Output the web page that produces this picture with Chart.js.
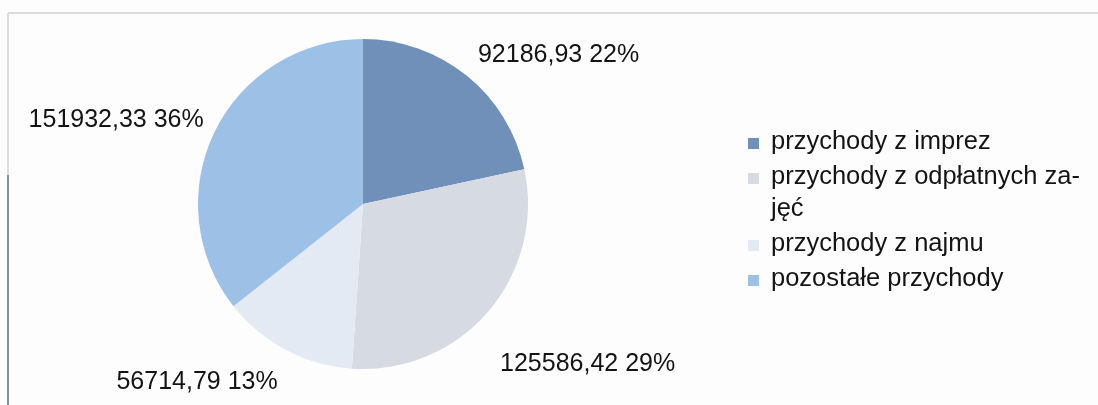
<!DOCTYPE html>
<html>
<head>
<meta charset="utf-8">
<script src="https://cdn.jsdelivr.net/npm/chart.js@4/dist/chart.umd.min.js"></script>
<style>
  html, body { margin: 0; padding: 0; background: #fdfdfd; }
  canvas { display: block; }
</style>
</head>
<body>
<canvas id="c" width="1098" height="405"></canvas>
<script>
const categories = ["przychody z imprez", "przychody z odpłatnych zajęć", "przychody z najmu", "pozostałe przychody"];
const legendLines = [["przychody z imprez"], ["przychody z odpłatnych za-", "jęć"], ["przychody z najmu"], ["pozostałe przychody"]];
const values = [92186.93, 125586.42, 56714.79, 151932.33];
const valueLabels = ["92186,93", "125586,42", "56714,79", "151932,33"];
const percentLabels = ["22%", "29%", "13%", "36%"];
const colors = ["#7190b9", "#d6dae2", "#e4eaf4", "#9dc1e6"];

const framePlugin = {
  id: 'frame',
  beforeDraw(chart) {
    const ctx = chart.ctx;
    ctx.save();
    ctx.fillStyle = '#fdfdfd';
    ctx.fillRect(0, 0, chart.width, chart.height);
    ctx.strokeStyle = '#dcdcdc';
    ctx.lineWidth = 2;
    ctx.beginPath();
    ctx.moveTo(8, 13); ctx.lineTo(chart.width, 13);
    ctx.moveTo(8, 13); ctx.lineTo(8, 175);
    ctx.stroke();
    ctx.strokeStyle = '#8a9099';
    ctx.lineWidth = 2;
    ctx.beginPath();
    ctx.moveTo(8, 175); ctx.lineTo(8, chart.height);
    ctx.stroke();
    ctx.restore();
  }
};

const labelPlugin = {
  id: 'outLabels',
  afterDraw(chart, args, opts) {
    const ctx = chart.ctx;
    const meta = chart.getDatasetMeta(0);
    ctx.save();
    ctx.font = opts.font;
    ctx.fillStyle = opts.color;
    meta.data.forEach((arc, i) => {
      const mid = (arc.startAngle + arc.endAngle) / 2;
      const r = arc.outerRadius + opts.gaps[i];
      const x = arc.x + Math.cos(mid) * r + opts.shifts[i][0];
      const y = arc.y + Math.sin(mid) * r + opts.shifts[i][1];
      ctx.textAlign = Math.cos(mid) >= 0 ? 'left' : 'right';
      ctx.textBaseline = Math.sin(mid) < 0 ? 'alphabetic' : 'top';
      ctx.fillText(valueLabels[i] + ' ' + percentLabels[i], x, y);
    });
    ctx.restore();
  }
};

const legendPlugin = {
  id: 'sideLegend',
  afterDraw(chart, args, opts) {
    const ctx = chart.ctx;
    ctx.save();
    ctx.font = opts.font;
    ctx.textAlign = 'left';
    ctx.textBaseline = 'alphabetic';
    let y = opts.top;
    legendLines.forEach((lines, i) => {
      ctx.fillStyle = colors[i];
      ctx.fillRect(opts.boxX, y - opts.boxSize, opts.boxSize, opts.boxSize);
      ctx.fillStyle = opts.color;
      lines.forEach((ln, j) => {
        ctx.fillText(ln, opts.textX, y);
        y += (j < lines.length - 1) ? opts.wrapHeight : 0;
      });
      y += opts.itemHeight;
    });
    ctx.restore();
  }
};

new Chart(document.getElementById('c'), {
  type: 'pie',
  data: {
    labels: categories,
    datasets: [{
      data: values,
      backgroundColor: colors,
      borderWidth: 0
    }]
  },
  options: {
    responsive: false,
    animation: false,
    layout: { padding: { left: 198, right: 570, top: 39, bottom: 36 } },
    plugins: {
      legend: { display: false },
      tooltip: { enabled: false },
      outLabels: {
        font: '25px "Liberation Sans", Arial, sans-serif', color: '#141414',
        gaps: [18, 36, 18, 12], shifts: [[0, 0], [-15, 16], [0, 4], [0, 0]]
      },
      sideLegend: {
        font: '25.5px "Liberation Sans", Arial, sans-serif', color: '#141414',
        top: 149, boxX: 748, boxSize: 11, textX: 771, itemHeight: 35, wrapHeight: 32
      }
    }
  },
  plugins: [framePlugin, labelPlugin, legendPlugin]
});
</script>
</body>
</html>
